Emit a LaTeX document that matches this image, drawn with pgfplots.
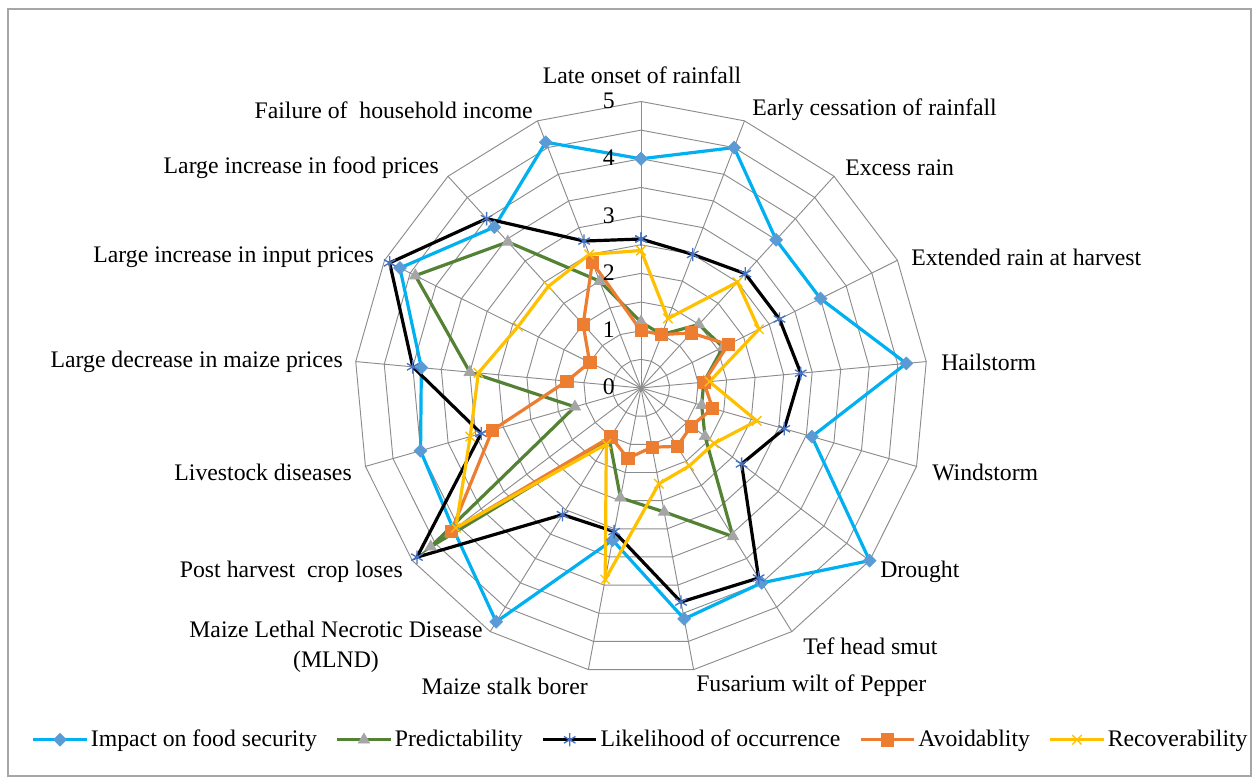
\documentclass[border=0pt]{standalone}
\usepackage{fontspec}
\setmainfont{Liberation Serif}
\usepackage{pgfplots}
\usepackage{pgfplotstable}
\pgfplotsset{compat=1.18}
\definecolor{cImpL}{HTML}{00B0F0}
\definecolor{cImpM}{HTML}{5B9BD5}
\definecolor{cPreL}{HTML}{548235}
\definecolor{cPreM}{HTML}{A5A5A5}
\definecolor{cLikM}{HTML}{4472C4}
\definecolor{cAvo}{HTML}{ED7D31}
\definecolor{cRec}{HTML}{FFC000}
\definecolor{cGrid}{HTML}{8C8C8C}
\definecolor{cFrame}{HTML}{A6A6A6}

\pgfplotstableread{
angle     impact pred like avoid recov
90        4.0    1.15 2.6  1.0   2.4
68.8235   4.5    1.0  2.5  1.0   1.3
47.6471   3.5    1.5  2.7  1.3   2.5
26.4706   3.5    1.6  2.7  1.7   2.3
5.2941    4.65   1.1  2.8  1.1   1.2
-15.8824  3.1    1.1  2.6  1.3   2.1
-37.0588  5.0    1.4  2.2  1.1   1.6
-58.2353  4.0    3.05 3.9  1.2   1.6
-79.4118  4.1    2.2  3.8  1.05  1.7
-100.5882 2.7    1.95 2.55 1.25  3.4
-121.7647 4.8    1.05 2.6  1.0   1.15
-142.9412 4.1    4.6  4.9  4.15  4.05
-164.1176 4.0    1.2  2.9  2.7   3.1
-185.2941 3.85   3.0  4.0  1.3   2.85
-206.4706 4.7    4.4  4.9  1.0   2.4
-227.6471 3.8    3.45 4.0  1.5   2.4
-248.8235 4.6    2.0  2.75 2.35  2.5
-270      4.0    1.15 2.6  1.0   2.4
}\radar

\begin{document}
\begin{tikzpicture}
\fontsize{17.8}{21}\selectfont
\begin{scope}[x=0.75pt,y=0.75pt]
\useasboundingbox (0,0) rectangle (1258,784);
\draw[cFrame, line width=0.9pt] (8,8) rectangle (1251,775);
\end{scope}

\begin{axis}[
  at={(480.75pt,297pt)}, anchor=origin,
  x=42.975pt, y=42.975pt,
  xmin=-5.5, xmax=5.5, ymin=-5.5, ymax=5.5,
  hide axis, clip=false,
  legend style={at={(axis cs:0.0,-6.14)}, anchor=center, draw=none, fill=none,
    legend columns=5, font=\fontsize{17.8}{21}\selectfont, inner sep=0pt,
    /tikz/every even column/.append style={column sep=12pt}},
  legend image code/.code={\draw[mark repeat=2,mark phase=2] plot coordinates {(0pt,0pt) (20pt,0pt) (40pt,0pt)};},
]
% web grid
\pgfplotsinvokeforeach{0.5,1,1.5,2,2.5,3,3.5,4,4.5,5}{
  \addplot[cGrid, line width=0.7pt, mark=none, forget plot, data cs=polar] table[x=angle, y expr=#1] {\radar};
}
\pgfplotsinvokeforeach{90,68.8235,47.6471,26.4706,5.2941,-15.8824,-37.0588,-58.2353,-79.4118,-100.5882,-121.7647,-142.9412,-164.1176,-185.2941,-206.4706,-227.6471,-248.8235}{
  \addplot[cGrid, line width=0.7pt, mark=none, forget plot, data cs=polar] coordinates {(#1,0) (#1,5)};
}

\addplot[cImpL, line width=2.4pt, mark=square*, mark size=3.4pt,
  mark options={draw=cImpM, fill=cImpM, rotate=45, line width=0.5pt, solid}, data cs=polar]
  table[x=angle, y=impact] {\radar};
\addlegendentry{Impact on food security}

\addplot[cPreL, line width=2.4pt, mark=triangle*, mark size=5pt,
  mark options={draw=cPreM, fill=cPreM, line width=0.5pt, solid}, data cs=polar]
  table[x=angle, y=pred] {\radar};
\addlegendentry{Predictability}

\addplot[black, line width=2.4pt, mark=asterisk, mark size=5pt,
  mark options={draw=cLikM, line width=1pt, solid}, data cs=polar]
  table[x=angle, y=like] {\radar};
\addlegendentry{Likelihood of occurrence}

\addplot[cAvo, line width=2.4pt, mark=square*, mark size=4.6pt,
  mark options={draw=cAvo, fill=cAvo, line width=0.5pt, solid}, data cs=polar]
  table[x=angle, y=avoid] {\radar};
\addlegendentry{Avoidablity}

\addplot[cRec, line width=2.4pt, mark=x, mark size=5pt,
  mark options={draw=cRec, line width=1pt, solid}, data cs=polar]
  table[x=angle, y=recov] {\radar};
\addlegendentry{Recoverability}
\end{axis}

\begin{scope}[x=0.75pt,y=0.75pt, every node/.style={inner sep=0pt}]
% radial value labels
\node[anchor=east] at (615,397) {0};
\node[anchor=east] at (615,454) {1};
\node[anchor=east] at (615,511) {2};
\node[anchor=east] at (615,568) {3};
\node[anchor=east] at (615,626) {4};
\node[anchor=east] at (615,683) {5};
% category labels
\node[anchor=center] at (642,709) {Late onset of rainfall};
\node[anchor=west] at (752,674) {Early cessation of rainfall};
\node[anchor=west] at (845,616) {Excess rain};
\node[anchor=west] at (911,527) {Extended rain at harvest};
\node[anchor=west] at (941,422) {Hailstorm};
\node[anchor=west] at (932,312) {Windstorm};
\node[anchor=west] at (880,212) {Drought};
\node[anchor=west] at (803,138) {Tef head smut};
\node[anchor=west] at (696,98) {Fusarium wilt of Pepper};
\node[anchor=east] at (588,98) {Maize stalk borer};
\node[anchor=center, align=center, font=\fontsize{17.8}{22.5}\selectfont] at (336,137) {Maize Lethal Necrotic Disease\\(MLND)};
\node[anchor=east] at (403,212) {Post harvest~ crop loses};
\node[anchor=east] at (352,312) {Livestock diseases};
\node[anchor=east] at (343,422) {Large decrease in maize prices};
\node[anchor=east] at (374,527) {Large increase in input prices};
\node[anchor=east] at (439,616) {Large increase in food prices};
\node[anchor=east] at (533,674) {Failure of~ household income};
\end{scope}
\end{tikzpicture}
\end{document}
